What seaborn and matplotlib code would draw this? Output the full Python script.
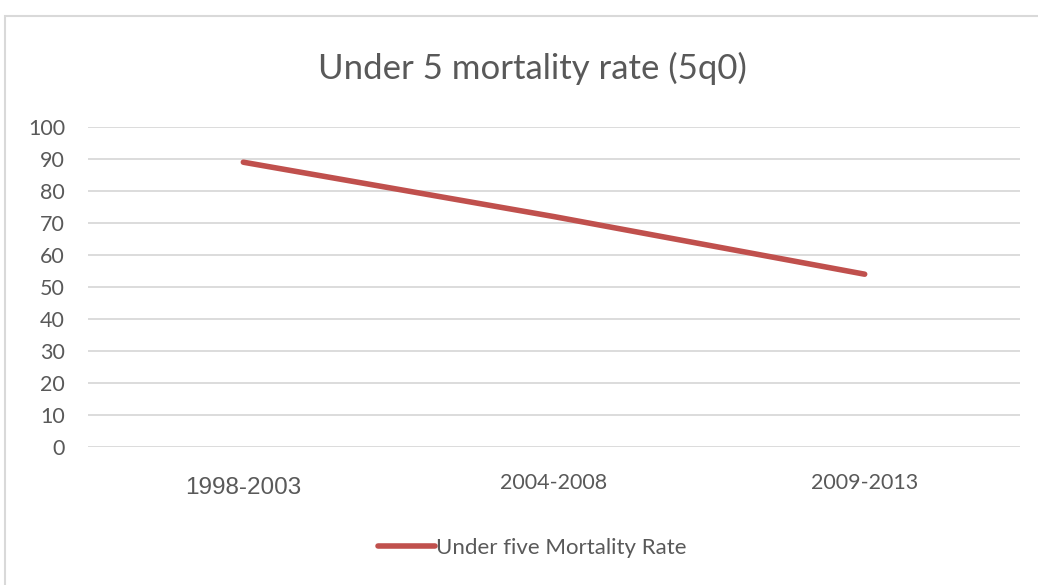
import matplotlib
matplotlib.use("Agg")
import matplotlib.pyplot as plt
import seaborn as sns
import pandas as pd
from matplotlib.patches import Rectangle

periods = ["1998-2003", "2004-2008", "2009-2013"]
u5mr = [89, 72, 54]
series_name = "Under five Mortality Rate"
title = "Under 5 mortality rate (5q0)"
yticks = [0, 10, 20, 30, 40, 50, 60, 70, 80, 90, 100]

sns.set_theme(style="white")
plt.rcParams["font.family"] = ["Lato", "DejaVu Sans"]

df = pd.DataFrame({"period": periods, "value": u5mr, "series": series_name})

W, H = 1038, 585
fig = plt.figure(figsize=(W / 100, H / 100), dpi=100)
fig.patch.set_facecolor("white")
ax = fig.add_axes([88 / W, 1 - 447 / H, (1020 - 88) / W, (447 - 127) / H])

sns.lineplot(data=df, x="period", y="value", hue="series", palette=["#c0504d"],
             linewidth=4, ax=ax, sort=False, solid_capstyle="round", legend=True)

ax.set_xlim(-0.5, 2.5)
ax.set_ylim(0, 100)
ax.set_yticks(yticks)
ax.set_yticklabels([str(v) for v in yticks], fontsize=15.5, color="#595959")
ax.grid(axis="y", color="#d9d9d9", linewidth=1.3)
ax.grid(axis="x", visible=False)
ax.set_axisbelow(True)
for s in ax.spines.values():
    s.set_visible(False)
ax.tick_params(axis="both", length=0)
ax.tick_params(axis="y", pad=16.5)
ax.set_xlabel("")
ax.set_ylabel("")
ax.set_xticks(range(len(periods)))
ax.set_xticklabels(periods, color="#595959")
for i, lab in enumerate(ax.get_xticklabels()):
    if i == 0:
        lab.set_fontfamily(["Liberation Sans", "DejaVu Sans"])
        lab.set_fontsize(17.5)
        lab.set_y(-0.08)
    else:
        lab.set_fontsize(15.5)
        lab.set_y(-0.065)

handles, labels = ax.get_legend_handles_labels()
ax.get_legend().remove()
fig.legend(handles, labels, loc="center", bbox_to_anchor=(532 / W, 1 - 548 / H),
           frameon=False, fontsize=16, handlelength=2.55, handletextpad=0.05,
           labelcolor="#595959")

fig.text(532 / W, 1 - 68 / H, title, ha="center", va="center", fontsize=25, color="#595959")

fig.patches.append(Rectangle((5 / W, -0.1), 1.2, 1.1 - 16 / H, transform=fig.transFigure,
                             fill=False, edgecolor="#d9d9d9", linewidth=1.5, zorder=-1))

fig.savefig("out.png", dpi=100)
